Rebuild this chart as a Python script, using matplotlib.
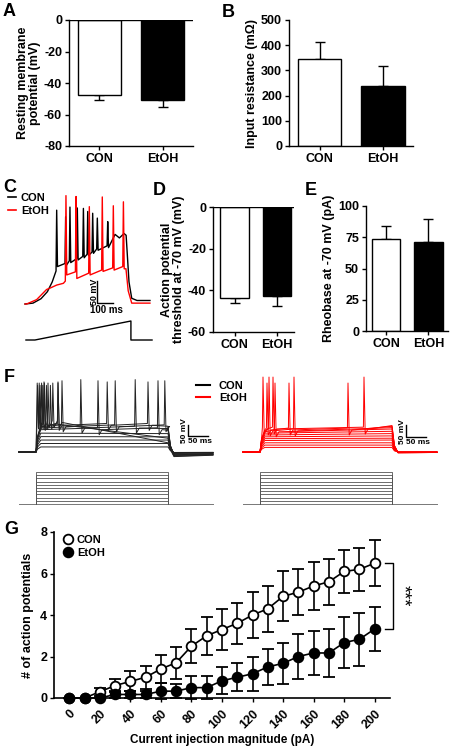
import matplotlib
matplotlib.use("Agg")
import matplotlib.pyplot as plt
from matplotlib.lines import Line2D

plt.rcParams['font.family'] = ['Liberation Sans', 'DejaVu Sans']
plt.rcParams['font.weight'] = 'bold'
plt.rcParams['axes.labelweight'] = 'bold'
plt.rcParams['axes.unicode_minus'] = False
plt.rcParams['axes.linewidth'] = 1.0
plt.rcParams['xtick.major.width'] = 1.0
plt.rcParams['ytick.major.width'] = 1.0
plt.rcParams['xtick.major.size'] = 3
plt.rcParams['ytick.major.size'] = 3

# ---------------- data ----------------
groups = ["CON", "EtOH"]
rmp_mean = [-47.5, -50.7]
rmp_sem = [3.6, 4.7]
rin_mean = [346, 239]
rin_sem = [68, 77]
thr_mean = [-43.9, -42.8]
thr_sem = [2.4, 4.8]
rheo_mean = [73.3, 70.9]
rheo_sem = [11.0, 18.5]

current_pA = [0, 10, 20, 30, 40, 50, 60, 70, 80, 90, 100,
              110, 120, 130, 140, 150, 160, 170, 180, 190, 200]
con_ap = [0, 0, 0.3, 0.6, 0.8, 1.0, 1.4, 1.7, 2.5, 3.0, 3.3,
          3.6, 4.0, 4.3, 4.9, 5.1, 5.4, 5.6, 6.1, 6.2, 6.5]
con_ap_sem = [0, 0, 0.2, 0.33, 0.48, 0.55, 0.68, 0.78, 0.83, 0.92, 0.97,
              1.0, 1.1, 1.1, 1.2, 1.1, 1.15, 1.1, 1.05, 1.05, 1.1]
etoh_ap = [0, 0, 0, 0.17, 0.17, 0.17, 0.33, 0.33, 0.5, 0.5, 0.83,
           1.0, 1.17, 1.5, 1.67, 2.0, 2.17, 2.17, 2.67, 2.83, 3.33]
etoh_ap_sem = [0, 0, 0, 0.16, 0.16, 0.16, 0.39, 0.34, 0.54, 0.54, 0.66,
               0.68, 0.83, 0.87, 1.0, 1.07, 1.08, 1.14, 1.22, 1.28, 1.07]
g_xticks = [0, 20, 40, 60, 80, 100, 120, 140, 160, 180, 200]

# Panel C: ramp-evoked traces (ms, mV)
c_con_pre_t = [0, 50, 100, 140, 170]
c_con_pre_v = [-70, -68, -58, -42, -20]
c_con_spk_t = [198, 254, 281, 327, 365, 392, 423, 452, 517]
c_con_spk_peak = [143, 128, 150, 148, 147, 140, 136, 125, 117]
c_con_spk_thr = [5, 22, 28, 33, 38, 43, 48, 55, 62]
c_con_spk_ahp = [15, 18, 24, 30, 35, 40, 45, 52, 58]
c_con_post_t = [545, 563, 590, 619, 632, 650, 667, 700, 781]
c_con_post_v = [75, 88, 80, 90, 86, -20, -57, -62, -62]

c_et_pre_t = [0, 10, 73, 135, 156, 198, 240]
c_et_pre_v = [-70, -70, -60, -37, -34, -27, -23]
c_et_spk_t = [256, 319, 402, 483, 552, 615]
c_et_spk_peak = [176, 174, 151, 173, 153, 162]
c_et_spk_thr = [-18, 3, 0, 7, 12, 15]
c_et_spk_ahp = [-4, -12, -4, 4, 7, 10]
c_et_post_t = [631, 645, 667, 781]
c_et_post_v = [10, -40, -68, -68]

c_ramp_t = [6, 62, 662, 662, 794]
c_ramp_i = [0, 0, 200, 0, 0]

# Panel F: step-evoked traces (deflection from -70 mV baseline)
f_step_ms = 330
f_con_level = [22, 37, 52, 67, 82, 97, 104, 110, 116, 122, 128]
f_con_level_end = [22, 37, 52, 66, 80, 95, 102, 108, 112, 60, 40]
f_con_spikes = [[], [], [], [], [], [155, 305], [112, 248], [65, 198, 322],
                [20, 55, 178, 280], [4, 10, 17, 26, 36], [3, 8, 14, 21, 30, 42, 55]]
f_con_peak = [0, 0, 0, 0, 0, 310, 315, 310, 305, 290, 300]
f_con_under = [-2, -3, -4, -5, -6, -10, -12, -14, -15, -18, -20]

f_et_level = [20, 30, 40, 50, 58, 66, 74, 82, 88, 92, 96, 100]
f_et_level_end = [20, 30, 40, 52, 60, 70, 80, 90, 100, 106, 112, 115]
f_et_spikes = [[], [], [], [], [], [], [], [], [37.5], [22.5, 85],
               [17.5, 72.5, 220], [7.5, 32.5, 260]]
f_et_peak = [0, 0, 0, 0, 0, 0, 0, 0, 300, 326, 300, 326]
f_et_under = [0, 0, 0, -1, -1, -1, -2, -2, -3, -3, -3, -3]

f_stim_levels = [20, 40, 60, 80, 100, 120, 140, 160, 180, 200]

# ---------------- figure ----------------
W, H = 455, 750
fig = plt.figure(figsize=(W / 100, H / 100), dpi=100)


def add_ax(x0, y0, x1, y1):
    return fig.add_axes([x0 / W, 1 - y1 / H, (x1 - x0) / W, (y1 - y0) / H])


FS = 9
LFS = 8


def bar_panel(box, means, sems, xlim, width, ylim, yticks, ylabel, neg):
    ax = add_ax(*box)
    x = [0, 1]
    ax.bar(x, means, width=width, color=['white', 'black'], edgecolor='black',
           linewidth=1.0, zorder=2)
    if neg:
        yerr = [sems, [0, 0]]
    else:
        yerr = [[0, 0], sems]
    ax.errorbar(x, means, yerr=yerr, fmt='none', ecolor='black', elinewidth=1.0,
                capsize=3.5, capthick=1.0, zorder=1)
    ax.set_xlim(*xlim)
    ax.set_ylim(*ylim)
    ax.set_yticks(yticks)
    ax.set_xticks(x)
    ax.set_xticklabels(groups)
    ax.tick_params(labelsize=FS, pad=2)
    ax.spines['top'].set_visible(False)
    ax.spines['right'].set_visible(False)
    if neg:
        ax.axhline(0, color='black', lw=1.0, zorder=3)
    ax.set_ylabel(ylabel, fontsize=FS, labelpad=2, linespacing=1.05)
    for lab in ax.get_xticklabels() + ax.get_yticklabels():
        lab.set_fontweight('bold')
    return ax


bar_panel((69, 20, 193, 146), rmp_mean, rmp_sem, (-0.484, 1.484), 0.68, (-80, 0),
          [0, -20, -40, -60, -80], "Resting membrane\npotential (mV)", True)
bar_panel((289, 20, 413, 146), rin_mean, rin_sem, (-0.48, 1.47), 0.68, (0, 500),
          [0, 100, 200, 300, 400, 500], "Input resistance (m\u03A9)", False)
bar_panel((213, 207, 294, 332), thr_mean, thr_sem, (-0.506, 1.40), 0.67, (-60, 0),
          [0, -20, -40, -60], "Action potential\nthreshold at -70 mV (mV)", True)
bar_panel((366, 206, 448, 331), rheo_mean, rheo_sem, (-0.47, 1.46), 0.67, (0, 100),
          [0, 25, 50, 75, 100], "Rheobase at -70 mV (pA)", False)

# ---------------- panel C ----------------
def c_trace(pre_t, pre_v, st, peak, thr, ahp, post_t, post_v):
    t = list(pre_t)
    v = list(pre_v)
    for s, p, th, a in zip(st, peak, thr, ahp):
        t += [s - 4, s, s + 5]
        v += [th, p, a]
    t += list(post_t)
    v += list(post_v)
    return t, v


axc = add_ax(20, 190, 155, 310)
t, v = c_trace(c_con_pre_t, c_con_pre_v, c_con_spk_t, c_con_spk_peak,
               c_con_spk_thr, c_con_spk_ahp, c_con_post_t, c_con_post_v)
axc.plot(t, v, color='black', lw=1.0)
t, v = c_trace(c_et_pre_t, c_et_pre_v, c_et_spk_t, c_et_spk_peak,
               c_et_spk_thr, c_et_spk_ahp, c_et_post_t, c_et_post_v)
axc.plot(t, v, color='red', lw=1.0)
axc.set_xlim(-31.25, 812.5)
axc.set_ylim(-83.6, 188.8)
axc.axis('off')
# scale bar 50 mV / 100 ms
axc.plot([452, 452, 552], [-18.4, -68.4, -68.4], color='black', lw=1.0)
axc.text(436, -43.4, "50 mV", rotation=90, ha='center', va='center', fontsize=6.5)
axc.text(510, -72, "100 ms", ha='center', va='top', fontsize=7)

axr = add_ax(20, 315, 155, 345)
axr.plot(c_ramp_t, c_ramp_i, color='black', lw=1.0)
axr.set_xlim(-31.25, 812.5)
axr.set_ylim(-52.6, 263.2)
axr.axis('off')

fig.legend(handles=[Line2D([], [], color='black', lw=1.2),
                    Line2D([], [], color='red', lw=1.2)],
           labels=["CON", "EtOH"], loc='upper left',
           bbox_to_anchor=(8 / W, 1 - 193 / H), bbox_transform=fig.transFigure,
           frameon=False, fontsize=LFS, handlelength=0.7, handletextpad=0.45,
           labelspacing=0.25, borderpad=0, borderaxespad=0)

# ---------------- panel F ----------------
def f_trace(level, level_end, spikes, peak, under):
    v0 = -70
    t = [-42.5, 0]
    v = [v0, v0]
    first = spikes[0] if spikes else 1e9
    for tt, frac in [(4, 0.6), (12, 1.0)]:
        if tt < first - 1.5:
            t.append(tt)
            v.append(v0 + frac * level)
    last = 0
    for i, s in enumerate(spikes):
        t += [s - 1.5, s, s + 3]
        v += [v0 + level + 8, v0 + peak, v0 + level - 22]
        nxt = spikes[i + 1] if i + 1 < len(spikes) else 1e9
        if nxt - s > 14:
            t.append(s + 10)
            v.append(v0 + level)
        last = s
    t += [max(last + 12, 14), f_step_ms, f_step_ms + 6, f_step_ms + 15, 442.5]
    v += [v0 + level, v0 + level_end, v0 + 0.25 * level_end, v0 + under, v0 + 0.7 * under]
    return t, v


def f_panel(box, levels, ends, spikes, peaks, unders, color, sb_t, sb_v):
    ax = add_ax(*box)
    for lv, le, sp, pk, un in zip(levels, ends, spikes, peaks, unders):
        t, v = f_trace(lv, le, sp, pk, un)
        ax.plot(t, v, color=color, lw=0.7)
    ax.set_xlim(-52.5, 447.5)
    ax.set_ylim(-113.5, 286.7)
    ax.axis('off')
    ax.plot([sb_t, sb_t, sb_t + 50], [sb_v + 50, sb_v, sb_v], color='black', lw=1.0)
    ax.text(sb_t - 10, sb_v + 25, "50 mV", rotation=90, ha='center', va='center', fontsize=6)
    ax.text(sb_t + 30, sb_v - 8, "50 ms", ha='center', va='top', fontsize=6)
    return ax


axf1 = f_panel((15, 370, 215, 462), f_con_level, f_con_level_end, f_con_spikes,
               f_con_peak, f_con_under, '#222222', 380, -0.4)
axf2 = f_panel((239, 370, 439, 462), f_et_level, f_et_level_end, f_et_spikes,
               f_et_peak, f_et_under, 'red', 365, -4.7)

for box in [(15, 466, 215, 508), (239, 466, 439, 508)]:
    ax = add_ax(*box)
    ax.plot([-42.5, 442.5], [0, 0], color='#777777', lw=0.7)
    for I in f_stim_levels:
        ax.plot([0, 0, f_step_ms, f_step_ms], [0, I, I, 0], color='#555555', lw=0.6)
    ax.set_xlim(-52.5, 447.5)
    ax.set_ylim(-25, 237.5)
    ax.axis('off')

fig.legend(handles=[Line2D([], [], color='black', lw=1.5),
                    Line2D([], [], color='red', lw=1.5)],
           labels=["CON", "EtOH"], loc='upper left',
           bbox_to_anchor=(196 / W, 1 - 381 / H), bbox_transform=fig.transFigure,
           frameon=False, fontsize=LFS, handlelength=1.25, handletextpad=0.8,
           labelspacing=0.2, borderpad=0, borderaxespad=0)

# ---------------- panel G ----------------
axg = add_ax(54, 532, 390, 698)
for y, e, face in [(con_ap, con_ap_sem, 'white'), (etoh_ap, etoh_ap_sem, 'black')]:
    cont = axg.errorbar(current_pA, y, yerr=e, fmt='-o', color='black', mfc=face,
                        mec='black', ms=7, mew=1.3, lw=1.2, elinewidth=1.2,
                        capsize=4, capthick=1.2, zorder=3)
    cont[0].set_clip_on(False)
    for c in cont[1]:
        c.set_clip_on(False)
    for c in cont[2]:
        c.set_clip_on(False)
axg.set_xlim(-10, 210)
axg.set_ylim(0, 8)
axg.set_yticks([0, 2, 4, 6, 8])
axg.set_xticks(g_xticks)
axg.set_xticklabels([str(v) for v in g_xticks], rotation=45, ha='right',
                    va='top', rotation_mode='anchor')
axg.tick_params(labelsize=FS, pad=2)
axg.tick_params(axis='x', pad=4)
for s in ['top', 'right']:
    axg.spines[s].set_visible(False)
for s in ['left', 'bottom']:
    axg.spines[s].set_linewidth(1.2)
axg.set_xlabel("Current injection magnitude (pA)", fontsize=8.5, labelpad=2)
axg.set_ylabel("# of action potentials", fontsize=FS, labelpad=4)
axg.plot([207, 212, 212, 207], [con_ap[-1], con_ap[-1], etoh_ap[-1], etoh_ap[-1]],
         color='black', lw=1.0, clip_on=False)
axg.text(218, (con_ap[-1] + etoh_ap[-1]) / 2, "***", rotation=270, ha='center',
         va='center', fontsize=13, fontweight='normal')
axg.legend(handles=[Line2D([], [], marker='o', ls='none', mfc='white', mec='black', ms=7, mew=1.3),
                    Line2D([], [], marker='o', ls='none', mfc='black', mec='black', ms=7, mew=1.3)],
           labels=["CON", "EtOH"], loc='upper left',
           bbox_to_anchor=(64 / W, 1 - 535 / H), bbox_transform=fig.transFigure,
           frameon=False, fontsize=LFS, handlelength=0.8, handletextpad=0.35,
           labelspacing=0.3, borderpad=0, borderaxespad=0)

# ---------------- panel letters ----------------
for letter, x, y in [("A", 3, 3), ("B", 222, 4), ("C", 3, 179), ("D", 153, 182),
                     ("E", 305, 182), ("F", 4, 369), ("G", 4, 521)]:
    fig.text(x / W, 1 - y / H, letter, fontsize=13, fontweight='bold',
             ha='left', va='top')

fig.savefig("out.png", dpi=100)
